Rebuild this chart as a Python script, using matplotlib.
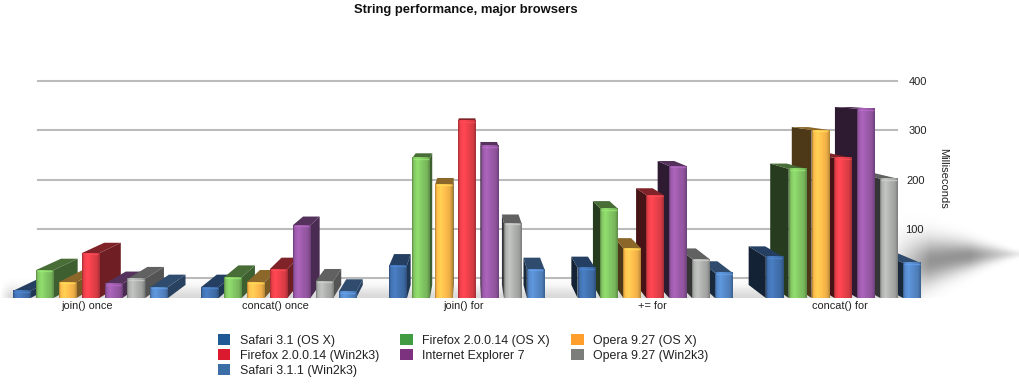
import numpy as np
import matplotlib
matplotlib.use("Agg")
import matplotlib.pyplot as plt
from matplotlib.patches import Patch, Polygon
from matplotlib.colors import to_rgb

plt.rcParams['font.family'] = ['Liberation Sans', 'DejaVu Sans']

categories = ["join() once", "concat() once", "join() for", "+= for", "concat() for"]
series_names = ["Safari 3.1 (OS X)", "Firefox 2.0.0.14 (OS X)", "Opera 9.27 (OS X)",
                "Firefox 2.0.0.14 (Win2k3)", "Internet Explorer 7", "Opera 9.27 (Win2k3)",
                "Safari 3.1.1 (Win2k3)"]
safari31 = [13, 20, 60, 55, 75]
firefox_osx = [51, 38, 256, 163, 236]
opera_osx = [29, 29, 208, 91, 307]
firefox_win = [82, 53, 324, 188, 256]
ie7 = [26, 133, 278, 241, 346]
opera_win = [35, 31, 137, 71, 218]
safari311 = [20, 11, 53, 46, 64]
series = [safari31, firefox_osx, opera_osx, firefox_win, ie7, opera_win, safari311]
bar_colors = ["#4272B0", "#82C663", "#FFBC4C", "#E8404A", "#9A5AA8", "#AEB0AE", "#5588C8"]
legend_colors = ["#1F5A96", "#429C42", "#FF9E2D", "#DC1A2F", "#7C327E", "#7C7E7C", "#3A6EA5"]
grid_ticks = [100, 200, 300, 400]

W, H = 1019, 386
BASE = 298
SCALE = 0.547            # px per ms at the front plane
VP = (470.0, (BASE - 80) / SCALE)
KX, KY = 0.058, 0.06     # depth of the bars in perspective
BAR_W, STEP, G0, GSTEP = 17.6, 22.9, 13.0, 188.2

fig = plt.figure(figsize=(W / 100, H / 100), dpi=100, facecolor="white")

# Back wall: gridlines and value axis
back = fig.add_axes([38 / W, (H - 278) / H, (897 - 38) / W, (278 - 81) / H], frameon=False, zorder=1)
back.set_xlim(0, 1)
back.set_ylim(0, 400)
back.set_xticks([])
back.yaxis.tick_right()
back.set_yticks(grid_ticks)
back.tick_params(axis='y', length=0, labelsize=8, labelcolor="#222222")
for tick, pad in zip(back.yaxis.get_major_ticks(), [5.8, 6.5, 8.0, 8.6]):
    tick.set_pad(pad)
for v in [0] + grid_ticks:
    back.axhline(v, color="#BBBBBB", lw=1.5, clip_on=False)

# Front plane: bars
ax = fig.add_axes([0, (H - BASE) / H, 1, BASE / H], zorder=2)
ax.patch.set_alpha(0)
for s in ax.spines.values():
    s.set_visible(False)
ax.set_xlim(0, W)
ax.set_ylim(0, BASE / SCALE)
ax.set_yticks([])
centers = [G0 + GSTEP * g + 3 * STEP + BAR_W / 2 - 3 for g in range(len(categories))]
ax.set_xticks(centers, categories)
ax.tick_params(axis='x', length=0, pad=2.5, labelsize=7.9, labelcolor="#222222")

# Soft floor shadow and the cast shadow at the right
xx, yy = np.meshgrid(np.arange(W) + .5, np.arange(BASE) + .5)
floor = 0.15 * np.exp(-((BASE - yy) / 11.0) ** 2) * np.clip((925 - xx) / 20, 0, 1) * np.clip(xx / 10, 0, 1)
t = np.clip((xx - 890) / 130, 0, 1)
cy = 254 + 18 * (1 - t) ** 2.5
hw = 28 * (1 - t) ** 1.1 + 3
blob = 0.42 * np.exp(-((yy - cy) / hw) ** 2) * np.clip((xx - 885) / 45, 0, 1) * np.clip((1030 - xx) / 60, 0, 1)
alpha = np.clip(floor + blob, 0, .7)
shade = np.zeros(alpha.shape + (4,))
shade[..., 3] = alpha
ax.imshow(shade, extent=(0, W, 0, BASE / SCALE), origin='upper', aspect='auto', zorder=1)

def backpt(x, v):
    return x + KX * (VP[0] - x), v + KY * (VP[1] - v)

bars = []
for i, vals in enumerate(series):
    for g, v in enumerate(vals):
        x0 = G0 + GSTEP * g + STEP * i
        bars.append((x0, v, i))
bars.sort(key=lambda b: -abs(b[0] + BAR_W / 2 - VP[0]))

profile_x = [0.0, 0.08, 0.3, 0.55, 0.85, 1.0]
profile_f = [0.72, 1.0, 1.12, 1.02, 0.92, 0.72]
for n, (x0, v, i) in enumerate(bars):
    c = np.array(to_rgb(bar_colors[i]))
    x1 = x0 + BAR_W
    z = 2 + n * 0.001
    if x1 < VP[0]:
        poly = [(x1, 0), backpt(x1, 0), backpt(x1, v), (x1, v)]
        ax.add_patch(Polygon(poly, fc=c * 0.48, ec='none', zorder=z))
    if x0 > VP[0]:
        poly = [(x0, 0), backpt(x0, 0), backpt(x0, v), (x0, v)]
        ax.add_patch(Polygon(poly, fc=c * 0.3, ec='none', zorder=z))
    top = [(x0, v), (x1, v), backpt(x1, v), backpt(x0, v)]
    ax.add_patch(Polygon(top, fc=c * 0.55, ec='none', zorder=z + 0.0005))

for i, vals in enumerate(series):
    xs = [G0 + GSTEP * g + STEP * i for g in range(len(vals))]
    rects = ax.bar(xs, vals, width=BAR_W, align='edge', color=bar_colors[i], zorder=5)
    c = np.array(to_rgb(bar_colors[i]))
    u = np.linspace(0, 1, 24)
    f = np.interp(u, profile_x, profile_f)
    grad = np.clip(c[None, None, :] * f[None, :, None], 0, 1)
    for r in rects:
        im = ax.imshow(grad, extent=(r.get_x(), r.get_x() + r.get_width(), 0, r.get_height()),
                       aspect='auto', zorder=6, interpolation='bilinear')
        ax.plot([r.get_x() + 1, r.get_x() + r.get_width() - 1], [r.get_height() - 1.5] * 2,
                color=np.clip(c * 1.2, 0, 1), lw=1, alpha=.7, zorder=7, solid_capstyle='butt')
ax.set_xlim(0, W)
ax.set_ylim(0, BASE / SCALE)

handles = [Patch(fc=legend_colors[i], ec='none', label=series_names[i]) for i in [0, 3, 6, 1, 4, 2, 5]]
fig.legend(handles=handles, ncol=3, frameon=False, fontsize=8.95, loc='upper left',
           bbox_to_anchor=(214 / W, 1 - 330 / H), handlelength=1.0, handleheight=1.0,
           handletextpad=0.78, columnspacing=1.7, labelspacing=0.2, labelcolor="#222222",
           borderpad=0.3, borderaxespad=0)

fig.text(466 / W, 1 - 9.5 / H, "String performance, major browsers", ha='center', va='center',
         fontsize=9.4, fontweight='bold', color="#111111")
fig.text(943 / W, 1 - 178 / H, "Milliseconds", rotation=270, ha='center', va='center',
         fontsize=8, color="#222222")

fig.savefig("out.png", dpi=100)
